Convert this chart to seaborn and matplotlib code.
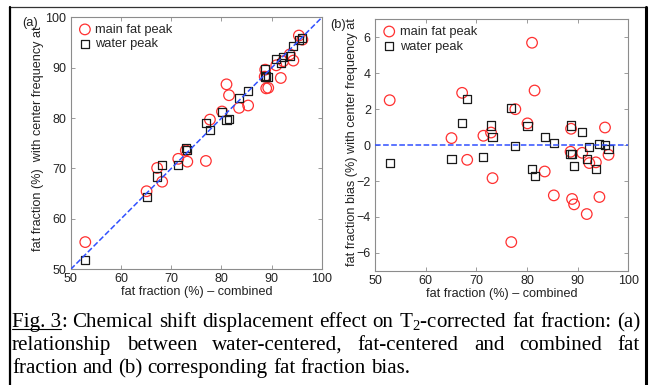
import numpy as np
import pandas as pd
import seaborn as sns
import matplotlib.pyplot as plt
from matplotlib.lines import Line2D

# fat fraction (%) - combined
ff_combined = [52.9, 65.1, 67.2, 68.2, 71.4, 72.9, 73.2, 76.9, 77.7, 80.1, 81.0, 81.5, 83.5,
               85.3, 88.6, 88.7, 88.9, 89.3, 90.9, 91.8, 92.3, 93.6, 94.3, 95.4, 96.1]
# bias (%) with center frequency at main fat peak / water peak
bias_fat = [2.50, 0.39, 2.91, -0.82, 0.52, 0.70, -1.84, -5.40, 2.00, 1.21, 5.70, 3.04, -1.47,
            -2.80, -0.37, 0.91, -3.00, -3.30, -0.43, -3.84, -1.00, -0.96, -2.89, 0.98, -0.54]
bias_water = [-1.00, -0.78, 1.21, 2.58, -0.67, 1.09, 0.45, 2.08, -0.07, 1.06, -1.32, -1.73, 0.43,
              0.13, -0.48, 1.09, -0.50, -1.15, 0.74, -0.78, -0.11, -1.32, 0.07, 0.02, -0.24]

series = ["main fat peak", "water peak"]
x_ticks = [50, 60, 70, 80, 90, 100]
ff_ticks = [50, 60, 70, 80, 90, 100]
bias_ticks = [-6, -4, -2, 0, 2, 4, 6]

df = pd.DataFrame({
    "combined": ff_combined * 2,
    "bias": bias_fat + bias_water,
    "peak": [series[0]] * len(bias_fat) + [series[1]] * len(bias_water),
})
df["ff"] = df["combined"] + df["bias"]

sns.set_theme(style="ticks")
plt.rcParams["font.family"] = ["Liberation Sans", "DejaVu Sans"]
plt.rcParams["mathtext.fontset"] = "custom"
plt.rcParams["mathtext.rm"] = "Liberation Serif"
plt.rcParams["mathtext.it"] = "Liberation Serif:italic"

W, H = 652, 385
fig = plt.figure(figsize=(W / 100, H / 100), dpi=100)

def fx(px):
    return px / W

def fy(py):
    return 1 - py / H

ax1 = fig.add_axes([fx(70.7), fy(269.3), fx(322 - 70.7), (269.3 - 17.3) / H])
ax2 = fig.add_axes([fx(375), fy(270.8), fx(628.3 - 375), (270.8 - 19.4) / H])

styles = {
    series[0]: dict(marker="o", s=58, facecolor="none", edgecolor="#ff3030", linewidth=0.9),
    series[1]: dict(marker="s", s=34, facecolor="none", edgecolor="#1a1a1a", linewidth=0.9),
}

for ax, ycol in [(ax1, "ff"), (ax2, "bias")]:
    for name in series:
        sub = df[df["peak"] == name]
        sns.scatterplot(data=sub, x="combined", y=ycol, ax=ax, label=name, zorder=2, **styles[name])

ax1.plot([50, 100], [50, 100], ls="--", color="#3050ff", lw=1.1, zorder=3)
ax2.axhline(0, ls="--", color="#3050ff", lw=1.1, zorder=3)

ax1.set_xlim(50, 100)
ax1.set_ylim(50, 100)
ax1.set_yticks(ff_ticks)
ax2.set_xlim(50, 100)
ax2.set_ylim(-7, 7)
ax2.set_yticks(bias_ticks)

lab_size = 9.1
for ax in (ax1, ax2):
    ax.set_xticks(x_ticks)
    ax.tick_params(direction="in", length=3, width=0.6, color="#8c8c8c", labelsize=9,
                   labelcolor="#222222", pad=3, top=True, right=True)
    for sp in ax.spines.values():
        sp.set_color("#8c8c8c")
        sp.set_linewidth(0.8)
    ax.set_xlabel("fat fraction (%) \u2013 combined", fontsize=lab_size, color="#222222")
    ax.xaxis.set_label_coords(0.5, -0.068)
    ax.xaxis.label.set_va("top")
    ax.legend(loc="upper left", frameon=False, fontsize=9.3, handletextpad=0.2,
              borderaxespad=0.2, labelspacing=0.2, borderpad=0.3, handlelength=1.2)

ax1.set_ylabel("")
ax2.set_ylabel("")
fig.text(fx(38), fy(138.5), "fat fraction (%)  with center frequency at", rotation=90,
         ha="center", va="center", fontsize=lab_size, color="#222222")
fig.text(fx(352), fy(142), "fat fraction bias (%) with center frequency at", rotation=90,
         ha="center", va="center", fontsize=lab_size, color="#222222")
fig.text(fx(30), fy(23), "(a)", ha="center", va="center", fontsize=9.3, color="#222222")
fig.text(fx(338), fy(25), "(b)", ha="center", va="center", fontsize=9.3, color="#222222")

# caption, justified like the paper
renderer = fig.canvas.get_renderer()
cap_left, cap_right = 12, 640
cap_lines = [
    ["Fig. 3", "Chemical", "shift", "displacement", "effect", "on", "T$_2$-corrected", "fat",
     "fraction:", "(a)"],
    ["relationship", "between", "water-centered,", "fat-centered", "and", "combined", "fat"],
    ["fraction", "and", "(b)", "corresponding", "fat", "fraction", "bias."],
]
baselines = [327, 350, 373]
cap_kw = dict(family=["Liberation Serif", "DejaVu Serif"], fontsize=14, color="black",
              va="baseline", ha="left")

def width_of(t):
    return t.get_window_extent(renderer).width

# fit the font size so the first line fills the text column
probe = fig.text(0, 0, "Fig. 3: " + " ".join(cap_lines[0][1:]), **cap_kw)
size = 14 * (cap_right - cap_left - 4) / width_of(probe)
probe.remove()
cap_kw["fontsize"] = size
p1 = fig.text(0, 0, "a b", **cap_kw)
p2 = fig.text(0, 0, "ab", **cap_kw)
sp_w = width_of(p1) - width_of(p2)
p1.remove()
p2.remove()

for i, (words, base) in enumerate(zip(cap_lines, baselines)):
    texts = []
    for j, w in enumerate(words):
        if i == 0 and j == 0:
            t1 = fig.text(0, fy(base), w, **cap_kw)
            t2 = fig.text(0, fy(base), ":", **cap_kw)
            texts.append((t1, t2))
        else:
            texts.append((fig.text(0, fy(base), w, **cap_kw),))
    widths = [sum(width_of(t) for t in grp) for grp in texts]
    if i < len(cap_lines) - 1:
        gap = (cap_right - cap_left - sum(widths)) / (len(words) - 1)
    else:
        gap = sp_w
    x = cap_left
    for grp, wd in zip(texts, widths):
        xx = x
        for t in grp:
            t.set_x(fx(xx))
            xx += width_of(t)
        x += wd + gap
    if i == 0:
        fw = width_of(texts[0][0])
        fig.add_artist(Line2D([fx(cap_left), fx(cap_left + fw)], [fy(base + 2), fy(base + 2)],
                              transform=fig.transFigure, color="black", lw=0.8))

# page frame
fig.add_artist(Line2D([fx(9), fx(646)], [fy(7), fy(7)], transform=fig.transFigure,
                      color="#333333", lw=0.9))
fig.add_artist(Line2D([fx(10), fx(10)], [fy(7), fy(385)], transform=fig.transFigure,
                      color="black", lw=1.6))
fig.add_artist(Line2D([fx(645.5), fx(645.5)], [fy(7), fy(385)], transform=fig.transFigure,
                      color="black", lw=2.2))

fig.savefig("out.png", dpi=100)
